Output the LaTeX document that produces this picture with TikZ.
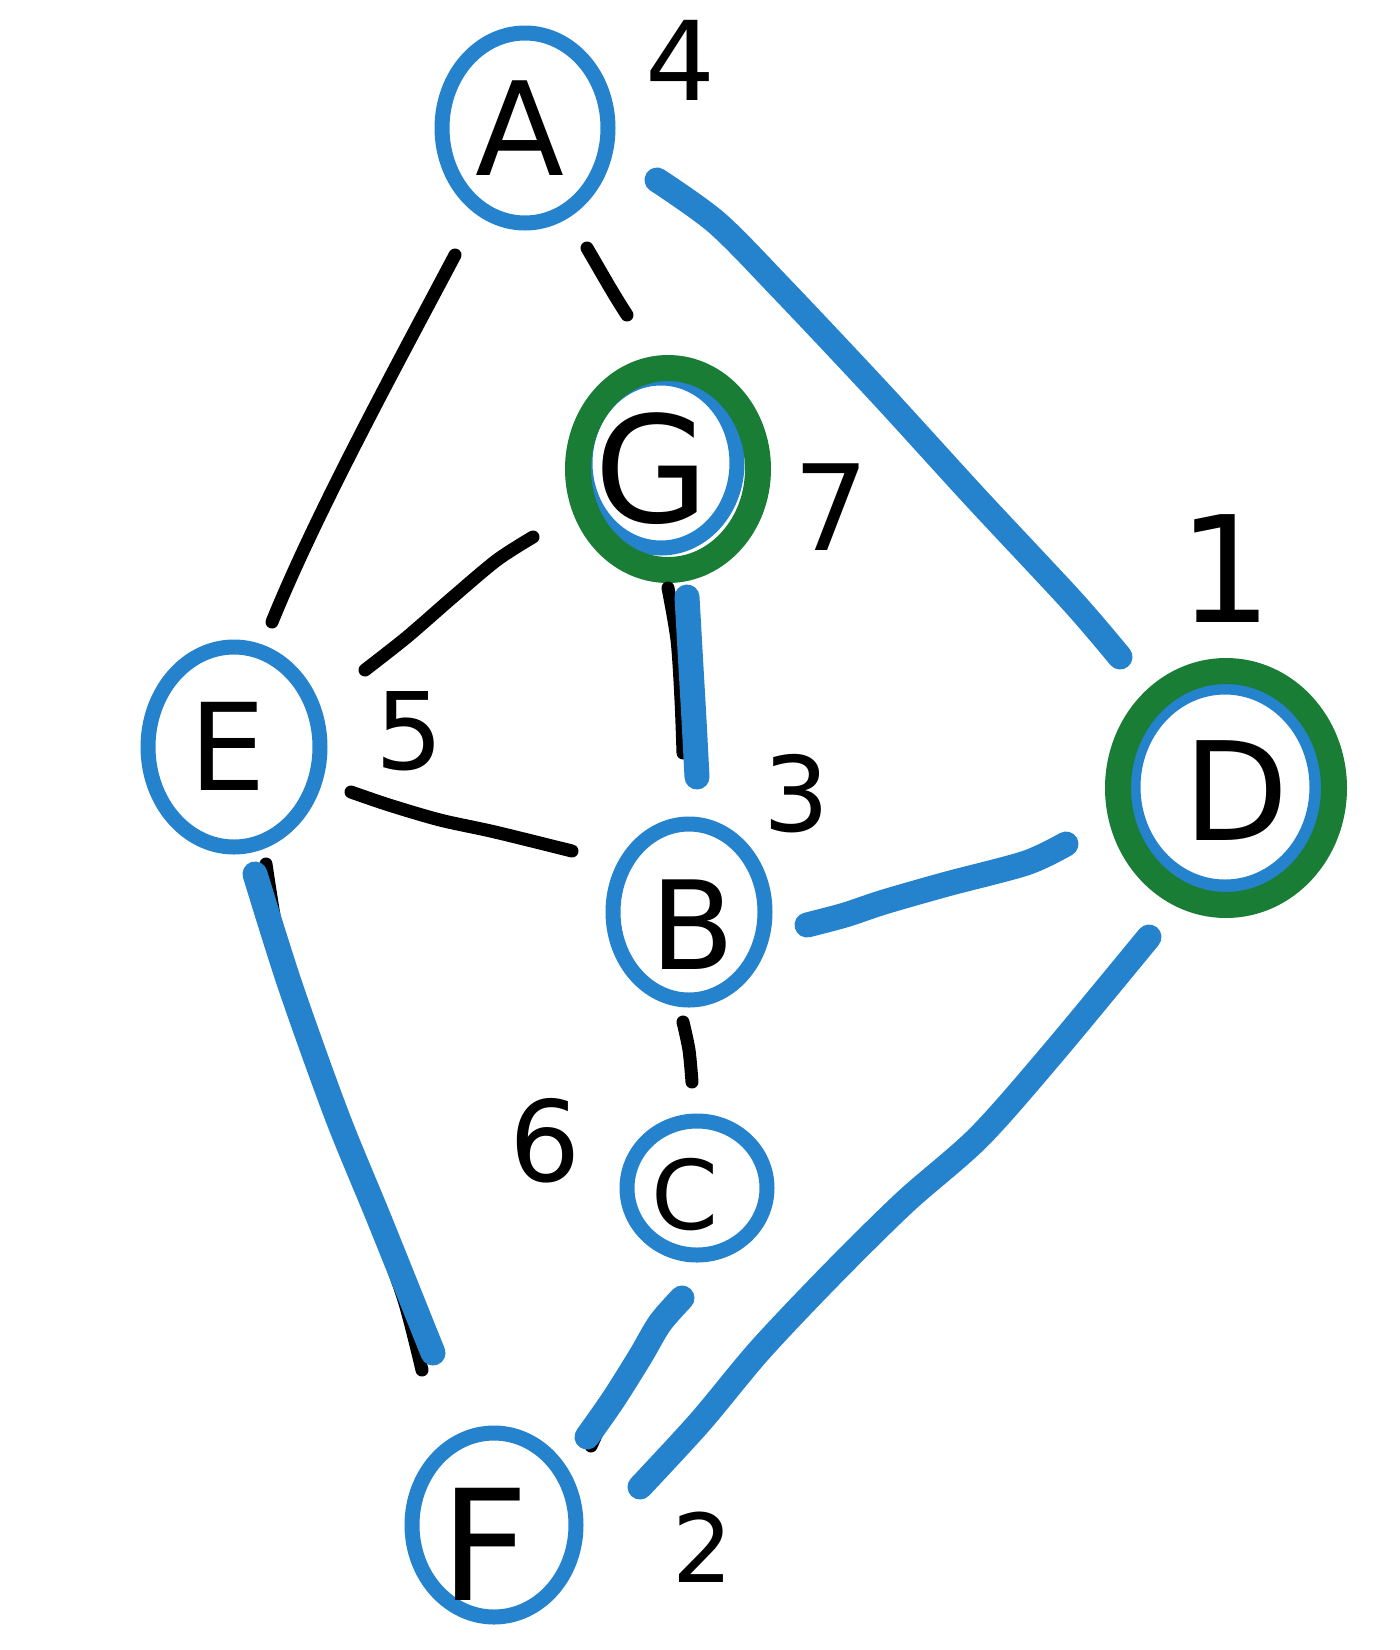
\documentclass[tikz,border=0pt]{standalone}
\usepackage{fontspec}
\newfontfamily\hand{DejaVu Sans}
\usetikzlibrary{shapes.geometric,calc}
\definecolor{inkblue}{RGB}{37,130,204}
\definecolor{inkgreen}{RGB}{26,125,54}
\begin{document}
\begin{tikzpicture}[x=1pt,y=-1pt,
  vertex/.style={ellipse, draw=inkblue, line width=15pt, inner sep=0pt, outer sep=0pt},
  ring/.style={ellipse, draw=inkgreen, line width=26pt, inner sep=0pt, outer sep=0pt},
  glyph/.style={inner sep=0pt, outer sep=0pt, text=black},
  plain edge/.style={draw=black, line width=13pt, line cap=round, line join=round},
  tree edge/.style={draw=inkblue, line width=25pt, line cap=round, line join=round},
]
\fill[white] (0,0) rectangle (1400,1650);
\useasboundingbox (0,0) rectangle (1400,1650);

% vertices (blue circles)
\node[vertex, minimum width=166pt, minimum height=190pt] (A) at (525,128) {};
\node[vertex, minimum width=152pt, minimum height=170pt] (G) at (661,463) {};
\node[vertex, minimum width=172pt, minimum height=200pt] (E) at (234,747) {};
\node[vertex, minimum width=184pt, minimum height=200pt] (D) at (1225,787) {};
\node[vertex, minimum width=152pt, minimum height=176pt] (B) at (689,912) {};
\node[vertex, minimum width=140pt, minimum height=134pt] (C) at (697,1188) {};
\node[vertex, minimum width=164pt, minimum height=184pt] (F) at (494,1525) {};

% green rings around the two marked vertices
\node[ring, minimum width=180pt, minimum height=202pt] (Gring) at ($(G)+(7,6)$) {};
\node[ring, minimum width=216pt, minimum height=234pt] (Dring) at ($(D)+(1,1)$) {};

% end points of the strokes
\coordinate (ae0) at ($(A)+(-70,127)$);
\coordinate (ae1) at ($(E)+(38,-125)$);
\coordinate (ag0) at ($(A)+(62,120)$);
\coordinate (ag1) at ($(G)+(-34,-148)$);
\coordinate (ge0) at ($(G)+(-128,74)$);
\coordinate (ge1) at ($(E)+(131,-77)$);
\coordinate (gb0) at ($(G)+(7,125)$);
\coordinate (gb1) at ($(B)+(-6,-159)$);
\coordinate (eb0) at ($(E)+(117,45)$);
\coordinate (eb1) at ($(B)+(-117,-61)$);
\coordinate (bc0) at ($(B)+(-6,110)$);
\coordinate (bc1) at ($(C)+(-5,-106)$);
\coordinate (ef0) at ($(E)+(32,117)$);
\coordinate (ef1) at ($(F)+(-72,-155)$);
\coordinate (cf0) at ($(C)+(-17,112)$);
\coordinate (cf1) at ($(F)+(97,-79)$);
\coordinate (tGB0) at ($(G)+(26,134)$);
\coordinate (tGB1) at ($(B)+(8,-135)$);
\coordinate (tEF0) at ($(E)+(21,127)$);
\coordinate (tEF1) at ($(F)+(-61,-172)$);
\coordinate (tCF0) at ($(C)+(-15,110)$);
\coordinate (tCF1) at ($(F)+(93,-88)$);
\coordinate (tAD0) at ($(A)+(132,52)$);
\coordinate (tAD1) at ($(D)+(-105,-130)$);
\coordinate (tBD0) at ($(B)+(118,13)$);
\coordinate (tBD1) at ($(D)+(-159,57)$);
\coordinate (tDF0) at ($(D)+(-76,150)$);
\coordinate (tDF1) at ($(F)+(146,-38)$);

% black edges of the graph
\draw[plain edge] (ae0) .. controls (399,361) and (317,511) .. (ae1);
\draw[plain edge] (ag0) .. controls (600,270) and (612,292) .. (ag1);
\draw[plain edge] plot[smooth, tension=0.5] coordinates {(ge0) (497,560) (453,597) (407,637) (ge1)};
\draw[plain edge] plot[smooth, tension=0.5] coordinates {(gb0) (677,640) (681,700) (gb1)};
\draw[plain edge] plot[smooth, tension=0.5] coordinates {(eb0) (389,805) (440,820) (495,832) (eb1)};
\draw[plain edge] plot[smooth, tension=0.5] coordinates {(bc0) (689,1050) (bc1)};
\draw[plain edge] plot[smooth, tension=0.5] coordinates {(ef0) (288,985) (336,1114) (376,1222) (404,1300) (ef1)};
\draw[plain edge] plot[smooth, tension=0.5] coordinates {(cf0) (647,1343) (613,1400) (cf1)};

% blue edges of the spanning tree
\draw[tree edge] plot[smooth, tension=0.5] coordinates {(tGB0) (690,650) (694,720) (tGB1)};
\draw[tree edge] plot[smooth, tension=0.5] coordinates {(tEF0) (290,985) (337,1116) (380,1221) (tEF1)};
\draw[tree edge] plot[smooth, tension=0.5] coordinates {(tCF0) (660,1323) (640,1357) (613,1400) (tCF1)};
\draw[tree edge] plot[smooth, tension=0.5] coordinates {(tAD0) (717,223) (783,290) (880,393) (975,497) (1073,602) (tAD1)};
\draw[tree edge] plot[smooth, tension=0.5] coordinates {(tBD0) (845,915) (884,902) (947,884) (1026,863) (tBD1)};
\draw[tree edge] plot[smooth, tension=0.5] coordinates {(tDF0) (1053,1053) (979,1137) (905,1202) (832,1274) (760,1350) (700,1422) (tDF1)};

% vertex letters
\node[glyph, font={\hand\fontsize{130}{130}\selectfont}] (A-t) at ($(A)+(-5,0)$) {A};
\node[glyph, font={\hand\fontsize{148}{148}\selectfont}] (G-t) at ($(G)+(-9,6)$) {G};
\node[glyph, font={\hand\fontsize{121}{121}\selectfont}] (E-t) at ($(E)+(-6,-1)$) {E};
\node[glyph, font={\hand\fontsize{137}{137}\selectfont}] (D-t) at ($(D)+(11,4)$) {D};
\node[glyph, font={\hand\fontsize{123}{123}\selectfont}] (B-t) at ($(B)+(4,13)$) {B};
\node[glyph, font={\hand\fontsize{96}{96}\selectfont}] (C-t) at ($(C)+(-12,7)$) {C};
\node[glyph, font={\hand\fontsize{154}{154}\selectfont}] (F-t) at ($(F)+(-9,19)$) {F};

% order numbers
\node[glyph, font={\hand\fontsize{110}{110}\selectfont}] (n4) at (680,60) {4};
\node[glyph, font={\hand\fontsize{119}{119}\selectfont}] (n7) at (831,507) {7};
\node[glyph, font={\hand\fontsize{148}{148}\selectfont}] (n1) at (1226,569) {1};
\node[glyph, font={\hand\fontsize{107}{107}\selectfont}] (n5) at (410,731) {5};
\node[glyph, font={\hand\fontsize{104}{104}\selectfont}] (n3) at (797,794) {3};
\node[glyph, font={\hand\fontsize{112}{112}\selectfont}] (n6) at (545,1141) {6};
\node[glyph, font={\hand\fontsize{95}{95}\selectfont}] (n2) at (703,1547) {2};
\end{tikzpicture}
\end{document}
